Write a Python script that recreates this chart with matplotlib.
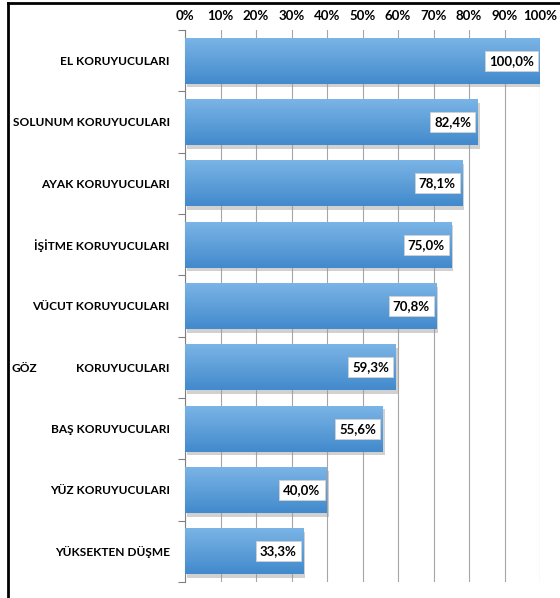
import matplotlib.pyplot as plt
import numpy as np
from matplotlib.patches import Rectangle
from matplotlib.transforms import blended_transform_factory

# data
categories = ["EL KORUYUCULARI", "SOLUNUM KORUYUCULARI", "AYAK KORUYUCULARI",
              "İŞİTME KORUYUCULARI", "VÜCUT KORUYUCULARI", "GÖZ|KORUYUCULARI",
              "BAŞ KORUYUCULARI", "YÜZ KORUYUCULARI", "YÜKSEKTEN DÜŞME"]
values = [100.0, 82.4, 78.1, 75.0, 70.8, 59.3, 55.6, 40.0, 33.3]
value_labels = ["100,0%", "82,4%", "78,1%", "75,0%", "70,8%", "59,3%", "55,6%", "40,0%", "33,3%"]
ticks = [0, 10, 20, 30, 40, 50, 60, 70, 80, 90, 100]

plt.rcParams['font.family'] = ['Lato', 'DejaVu Sans']
plt.rcParams['font.weight'] = 'bold'

fig = plt.figure(figsize=(5.6, 5.98), dpi=100)
ax = fig.add_axes([185/560, 1 - 582/598, 355/560, 552/598])

n = len(categories)
ypos = np.arange(n)
h = 0.75

# gradient image for bars (light top -> darker bottom)
grad = np.linspace(0, 1, 64).reshape(-1, 1)
c_top = np.array([0x7b, 0xb4, 0xe6]) / 255
c_bot = np.array([0x42, 0x8a, 0xcc]) / 255
img = c_top + (c_bot - c_top) * grad[:, :, None] * np.ones((1, 1, 3))

for y, v, lab in zip(ypos, values, value_labels):
    # shadow
    ax.add_patch(Rectangle((0.6, y - h/2 + 0.06), v, h, color='#9a9a9a', alpha=0.45,
                           lw=0, zorder=2))
    bar = ax.barh(y, v, height=h, color='none', zorder=3)[0]
    im = ax.imshow(img, extent=[0, v, y + h/2, y - h/2], aspect='auto', zorder=3,
                   interpolation='bilinear')
    im.set_clip_path(bar)
    ax.text(v - 1.8, y, lab, ha='right', va='center', fontsize=9.5, fontweight='bold',
            color='black', zorder=5,
            bbox=dict(boxstyle='square,pad=0.3', fc='white', ec='#d0d0d0', lw=0.6))

ax.set_xlim(0, 100)
ax.set_ylim(n - 0.5, -0.5)
ax.set_xticks(ticks)
ax.set_xticklabels([f"{t}%" for t in ticks], fontsize=9.5, fontweight='bold')
ax.xaxis.tick_top()
ax.tick_params(axis='x', length=0, pad=6)
ax.grid(axis='x', color='#a6a6a6', lw=0.8, zorder=0)
ax.set_axisbelow(True)

# category boundary ticks on the left
ax.set_yticks(np.arange(n + 1) - 0.5, minor=True)
ax.set_yticks(ypos)
ax.set_yticklabels([c.split('|')[-1] for c in categories], fontsize=8.6, fontweight='bold')
ax.tick_params(axis='y', which='major', length=0, pad=11)
ax.tick_params(axis='y', which='minor', length=5, color='#808080', width=0.8)

# the "GÖZ" label has a wide gap in the reference: first word sits at the left edge
tr = blended_transform_factory(fig.transFigure, ax.transData)
for c, y in zip(categories, ypos):
    if '|' in c:
        ax.text(11/560, y, c.split('|')[0], ha='left', va='center_baseline', fontsize=8.6,
                fontweight='bold', transform=tr, clip_on=False)

for s in ['top', 'right', 'bottom']:
    ax.spines[s].set_visible(False)
ax.spines['left'].set_color('#808080')

# outer frame lines (top and left)
fig.add_artist(plt.Line2D([8/560, 1], [1 - 3/598, 1 - 3/598], color='black', lw=2,
                          transform=fig.transFigure))
fig.add_artist(plt.Line2D([8/560, 8/560], [0, 1 - 3/598], color='black', lw=2,
                          transform=fig.transFigure))

fig.savefig('out.png', dpi=100)
